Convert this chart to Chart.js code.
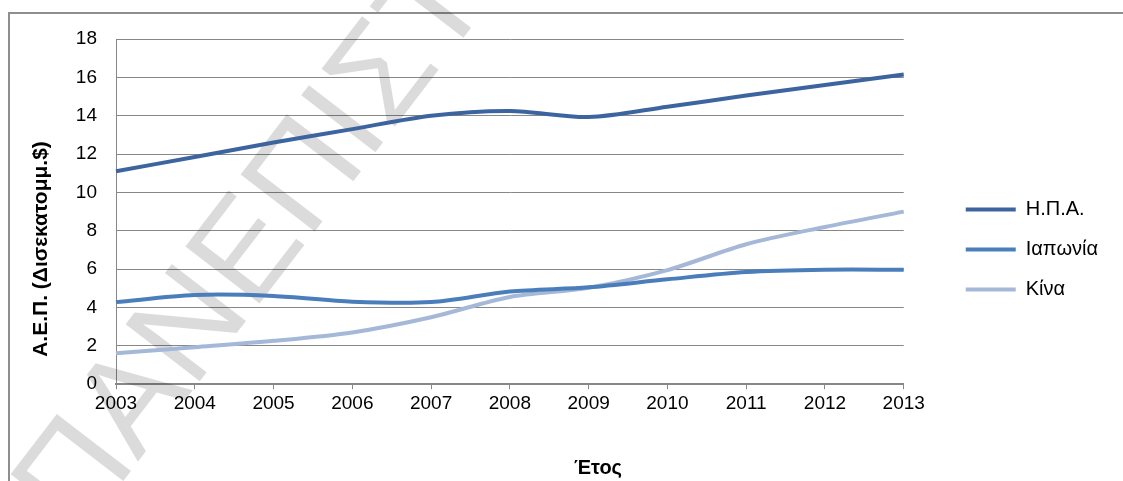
<!DOCTYPE html>
<html>
<head>
<meta charset="utf-8">
<script src="https://cdn.jsdelivr.net/npm/chart.js@4"></script>
<style>
  html, body { margin: 0; padding: 0; background: #fff; }
  #wrap { position: relative; width: 1123px; height: 481px; overflow: hidden; }
  #frame { position: absolute; left: 8px; top: 12px; width: 1200px; height: 600px; border: 2px solid #8e8e8e; box-sizing: border-box; }
  #grafico { position: absolute; left: 0; top: 0; }
</style>
</head>
<body>
<div id="wrap">
  <div id="frame"></div>
  <canvas id="grafico" width="1123" height="481"></canvas>
</div>
<script>
// ΑΕΠ σε δισεκατομμύρια $ ανά χώρα
const etos = ['2003', '2004', '2005', '2006', '2007', '2008', '2009', '2010', '2011', '2012', '2013'];
const hpa = [11.1, 11.85, 12.6, 13.3, 14.0, 14.25, 13.93, 14.47, 15.05, 15.6, 16.15];
const iaponia = [4.28, 4.65, 4.6, 4.3, 4.28, 4.83, 5.05, 5.47, 5.85, 5.97, 5.97];
const kina = [1.62, 1.93, 2.26, 2.7, 3.49, 4.55, 5.03, 5.95, 7.3, 8.2, 9.0];
const yTicks = [0, 2, 4, 6, 8, 10, 12, 14, 16, 18];

const grammi = '#878787';
const grammatoseira = 'Liberation Sans, Arial, sans-serif';

// μετακινεί το υπόμνημα λίγο πιο δεξιά και χαμηλά
const metakinisiYpomnimatos = {
    id: 'metakinisiYpomnimatos',
    afterLayout(chart) {
        const lg = chart.legend;
        const dx = 42, dy = 21;
        lg.left += dx; lg.right += dx;
        lg.top += dy; lg.bottom += dy;
    }
};

// υδατογράφημα κάτω από τις γραμμές
const ydatografima = {
    id: 'ydatografima',
    beforeDatasetsDraw(chart) {
        const c = chart.ctx;
        c.save();
        c.fillStyle = 'rgba(0,0,0,0.14)';
        c.font = '136px ' + grammatoseira;
        c.translate(78, 540);
        c.rotate(-52.5 * Math.PI / 180);
        c.textBaseline = 'alphabetic';
        c.fillText('ΠΑΝΕΠΙΣΤΗΜΙΟ', 0, 0);
        c.restore();
    }
};

// τίτλοι αξόνων
const titloi = {
    id: 'titloi',
    afterDraw(chart) {
        const c = chart.ctx;
        c.save();
        c.fillStyle = '#000';
        c.textAlign = 'center';
        c.textBaseline = 'middle';
        c.font = 'bold 20px ' + grammatoseira;
        c.fillText('Έτος', 598, 468);
        c.font = 'bold 21px ' + grammatoseira;
        c.translate(41, 249);
        c.rotate(-Math.PI / 2);
        c.fillText('Α.Ε.Π. (Δισεκατομμ.$)', 0, 0);
        c.restore();
    }
};

const ctx = document.getElementById('grafico');

new Chart(ctx, {
    type: 'line',
    data: {
        labels: etos,
        datasets: [
            { label: 'Η.Π.Α.', data: hpa, borderColor: '#3c65a0', backgroundColor: '#3c65a0' },
            { label: 'Ιαπωνία', data: iaponia, borderColor: '#4a7ebb', backgroundColor: '#4a7ebb' },
            { label: 'Κίνα', data: kina, borderColor: '#a5b8d8', backgroundColor: '#a5b8d8' }
        ]
    },
    options: {
        responsive: false,
        animation: false,
        devicePixelRatio: 1,
        layout: { padding: { top: 39, right: 57, bottom: 63, left: 0 } },
        elements: {
            line: { borderWidth: 4, tension: 0.3, borderCapStyle: 'butt' },
            point: { radius: 0, hoverRadius: 0, borderWidth: 4 }
        },
        scales: {
            x: {
                offset: false,
                grid: { display: true, drawOnChartArea: false, drawTicks: true, tickLength: 5, color: grammi },
                border: { display: true, color: grammi, width: 2 },
                ticks: { color: '#000', font: { family: grammatoseira, size: 19 }, padding: 3, maxRotation: 0, autoSkip: false }
            },
            y: {
                min: 0,
                max: 18,
                afterFit(scale) { scale.width = 116; },
                afterBuildTicks(scale) { scale.ticks = yTicks.map(v => ({ value: v })); },
                grid: { color: grammi, lineWidth: 1, drawTicks: false },
                border: { display: true, color: grammi, width: 1 },
                ticks: { color: '#000', font: { family: grammatoseira, size: 19 }, padding: 19 }
            }
        },
        plugins: {
            legend: {
                position: 'right',
                labels: {
                    usePointStyle: true,
                    pointStyle: 'line',
                    pointStyleWidth: 50,
                    boxHeight: 20,
                    padding: 20,
                    color: '#000',
                    font: { family: grammatoseira, size: 20 }
                }
            },
            tooltip: { enabled: false }
        }
    },
    plugins: [ydatografima, metakinisiYpomnimatos, titloi]
});
</script>
</body>
</html>
